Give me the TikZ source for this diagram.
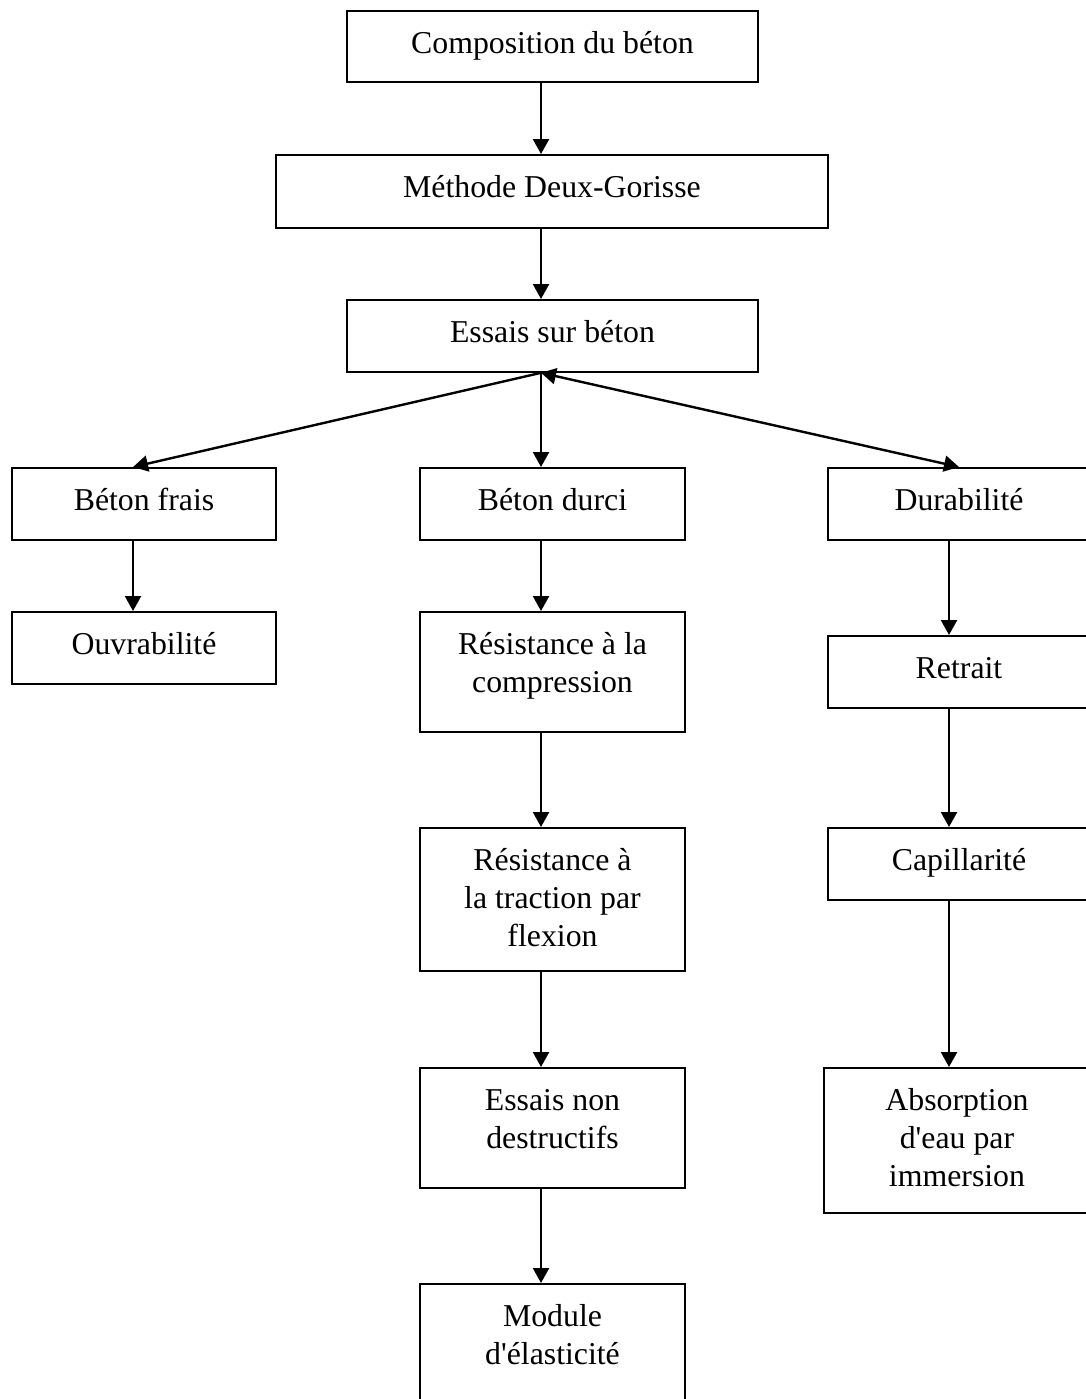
\documentclass[tikz,border=0pt]{standalone}
\usepackage{fontspec}
\setmainfont{Liberation Serif}
\usetikzlibrary{arrows.meta}

\begin{document}
\begin{tikzpicture}[x=0.5pt, y=-0.5pt,
  boite/.style 2 args={draw, line width=0.9pt, anchor=north, align=flush center,
    inner sep=0pt, text width=#1, text height=21.5pt, text depth=#2,
    font=\fontsize{15.9pt}{19pt}\selectfont},
  fleche/.style={->, line width=1.2pt},
  >={Triangle[length=7.5pt, width=8pt]}]
  \useasboundingbox (0,0) rectangle (1086,1399);

  % 軸
  \coordinate (colG) at (133,0);
  \coordinate (colM) at (541,0);
  \coordinate (colD) at (949,0);

  % ボックス
  \node[boite={205.5pt}{14pt}] (comp) at (552.5,10) {Composition du béton};
  \node[boite={276pt}{15pt}] (meth) at (552,154) {Méthode Deux-Gorisse};
  \node[boite={205.5pt}{14.5pt}] (essais) at (552.5,299) {Essais sur béton};

  \node[boite={132pt}{14.5pt}] (frais) at (144,467) {Béton frais};
  \node[boite={132.5pt}{14.5pt}] (durci) at (552.5,467) {Béton durci};
  \node[boite={131pt}{14.5pt}] (durab) at (959,467) {Durabilité};

  \node[boite={132pt}{14.5pt}] (ouvr) at (144,611) {Ouvrabilité};
  \node[boite={132.5pt}{38.5pt}] (compr) at (552.5,611) {Résistance à la\\compression};
  \node[boite={132.5pt}{50pt}] (flex) at (552.5,827) {Résistance à\\la traction par\\flexion};
  \node[boite={132.5pt}{38.5pt}] (ndt) at (552.5,1067) {Essais non\\destructifs};
  \node[boite={132.5pt}{47pt}] (module) at (552.5,1283) {Module\\d\textquotesingle élasticité};

  \node[boite={131pt}{14.5pt}] (retrait) at (959,635) {Retrait};
  \node[boite={131pt}{14.5pt}] (capil) at (959,827) {Capillarité};
  \node[boite={133pt}{51pt}] (absorp) at (957,1067) {Absorption\\d\textquotesingle eau par\\immersion};

  % 矢印
  \draw[fleche] (comp.south -| colM) -- (meth.north -| colM);
  \draw[fleche] (meth.south -| colM) -- (essais.north -| colM);
  \draw[fleche] (essais.south -| colM) -- (frais.north -| colG);
  \draw[fleche] (essais.south -| colM) -- (durci.north -| colM);
  \draw[fleche, <->] (essais.south -| colM) -- (durab.north);
  \draw[fleche] (frais.south -| colG) -- (ouvr.north -| colG);
  \foreach \a/\b in {durci/compr, compr/flex, flex/ndt, ndt/module}
    \draw[fleche] (\a.south -| colM) -- (\b.north -| colM);
  \foreach \a/\b in {durab/retrait, retrait/capil, capil/absorp}
    \draw[fleche] (\a.south -| colD) -- (\b.north -| colD);
\end{tikzpicture}
\end{document}
